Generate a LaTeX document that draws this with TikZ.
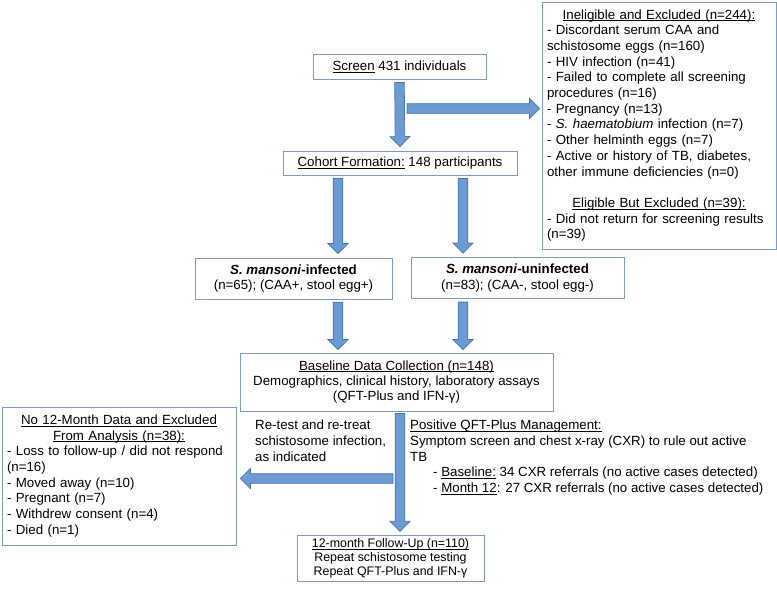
\documentclass[tikz,border=0pt]{standalone}
\usepackage{fontspec}
\setmainfont{Liberation Sans}
\usetikzlibrary{calc}
\definecolor{boxline}{RGB}{128,155,195}
\definecolor{arrfill}{RGB}{108,154,211}
\definecolor{arrline}{RGB}{72,118,178}

% underline at a fixed depth below the baseline
\newcommand{\ul}[1]{\underline{\raisebox{0pt}[\height][0pt]{#1}}}

% block arrow from #1 to #2
\newcommand{\blockarrow}[2]{%
  \path (#1) coordinate (baS);
  \path (#2) coordinate (baE);
  \pgfpointdiff{\pgfpointanchor{baS}{center}}{\pgfpointanchor{baE}{center}}%
  \pgfgetlastxy{\badx}{\bady}%
  \pgfmathsetmacro{\balen}{veclen(\badx,\bady)}%
  \pgfmathsetmacro{\baang}{atan2(\bady,\badx)}%
  \filldraw[bigarr,shift={(baS)},rotate=\baang]
    (0pt,-4.8pt) -- (\balen pt-10pt,-4.8pt) -- (\balen pt-10pt,-10pt) -- (\balen pt,0pt)
    -- (\balen pt-10pt,10pt) -- (\balen pt-10pt,4.8pt) -- (0pt,4.8pt) -- cycle;}

\begin{document}
\begin{tikzpicture}[x=1pt,y=-1pt,
    box/.style={draw=boxline,line width=0.9pt,fill=white,align=center,inner sep=3pt,font=\fontsize{13.3}{15.4}\selectfont},
    listbox/.style={draw=boxline,line width=0.9pt,fill=white,inner xsep=5pt,inner ysep=3pt,font=\fontsize{13.3}{15.7}\selectfont},
    note/.style={align=left,inner sep=0pt,font=\fontsize{13.3}{15.7}\selectfont},
    bigarr/.style={fill=arrfill,draw=arrline,line width=0.7pt,line join=miter}
  ]
    \fill[white] (0,0) rectangle (777,595);
    \useasboundingbox (0,0) rectangle (777,595);

    \node[box,minimum width=173pt,minimum height=25pt] (screen) at (399.5,66.5) {\ul{Screen} 431 individuals};
    \node[box,minimum width=234pt,minimum height=24pt] (cohort) at (400,163) {\ul{Cohort Formation:} 148 participants};

    \node[listbox,text width=224pt,minimum height=247pt] (inelig) at (659,125.5) {%
      {\centering\ul{Ineligible and Excluded (n=244):}\par}\raggedright
      - Discordant serum CAA and\\
      schistosome eggs (n=160)\\
      - HIV infection (n=41)\\
      - Failed to complete all screening\\
      procedures (n=16)\\
      - Pregnancy (n=13)\\
      - \textit{S. haematobium} infection (n=7)\\
      - Other helminth eggs (n=7)\\
      - Active or history of TB, diabetes,\\
      other immune deficiencies (n=0)\par\vspace{\baselineskip}
      {\centering\ul{Eligible But Excluded (n=39):}\par}
      - Did not return for screening results\\
      (n=39)};

    \node[box,minimum width=197pt,minimum height=41pt] (infected) at (293.5,278.5)
      {\textbf{\textit{S. mansoni}-infected}\\(n=65); (CAA+, stool egg+)};
    \node[box,minimum width=213pt,minimum height=41pt] (uninfected) at (517.5,278)
      {\textbf{\textit{S. mansoni}-uninfected}\\(n=83); (CAA-, stool egg-)};

    \node[box,minimum width=313pt,minimum height=58pt] (baseline) at (396.5,382)
      {\ul{Baseline Data Collection (n=148)}\\Demographics, clinical history, laboratory assays\\(QFT-Plus and IFN-γ)};

    \node[listbox,text width=224pt,minimum height=138pt] (nodata) at (119,476) {%
      {\centering\ul{No 12-Month Data and Excluded}\\\ul{From Analysis (n=38):}\par}\raggedright
      - Loss to follow-up / did not respond\\
      (n=16)\\
      - Moved away (n=10)\\
      - Pregnant (n=7)\\
      - Withdrew consent (n=4)\\
      - Died (n=1)};

    \node[note,anchor=north west] (retest) at (255,420)
      {Re-test and re-treat\\schistosome infection,\\as indicated};
    \node[note,anchor=north west] (qftpos) at (410,420)
      {\ul{Positive QFT-Plus Management:}\\
       Symptom screen and chest x-ray (CXR) to rule out active\\
       TB\\
       \hspace*{23pt}- \ul{Baseline:} 34 CXR referrals (no active cases detected)\\
       \hspace*{23pt}- \ul{Month 12}: 27 CXR referrals (no active cases detected)};

    \node[box,minimum width=187pt,minimum height=43pt,font=\fontsize{12.4}{14}\selectfont] (followup) at (390.5,558.5)
      {\ul{12-month Follow-Up (n=110)}\\Repeat schistosome testing\\Repeat QFT-Plus and IFN-γ};

    \coordinate (split) at ($(screen.south)+(4.5,29)$);
    \coordinate (cl) at ($(cohort.south)+(-62,0)$);
    \coordinate (cr) at ($(cohort.south)+(63,0)$);
    \coordinate (spine) at ($(baseline.south)+(3.5,0)$);
    \coordinate (turn) at ($(spine)+(-4,67)$);

    \blockarrow{$(screen.south)+(0,3)$}{$(cohort.north)+(0,-4)$}
    \blockarrow{$(split)+(3,0)$}{$(split -| inelig.west)+(-2,0)$}
    \blockarrow{$(cl)+(0,3)$}{$(cl |- infected.north)+(0,-4)$}
    \blockarrow{$(cr)+(0,3)$}{$(cr |- uninfected.north)+(0,-4)$}
    \blockarrow{$(cl |- infected.south)+(0,3)$}{$(cl |- baseline.north)+(0,-3)$}
    \blockarrow{$(cr |- uninfected.south)+(0,3)$}{$(cr |- baseline.north)+(0,-3)$}
    \blockarrow{$(turn)+(-3,0)$}{$(turn -| nodata.east)+(4,0)$}
    \blockarrow{$(spine)+(0,2)$}{$(spine |- followup.north)+(0,-4)$}
\end{tikzpicture}
\end{document}
